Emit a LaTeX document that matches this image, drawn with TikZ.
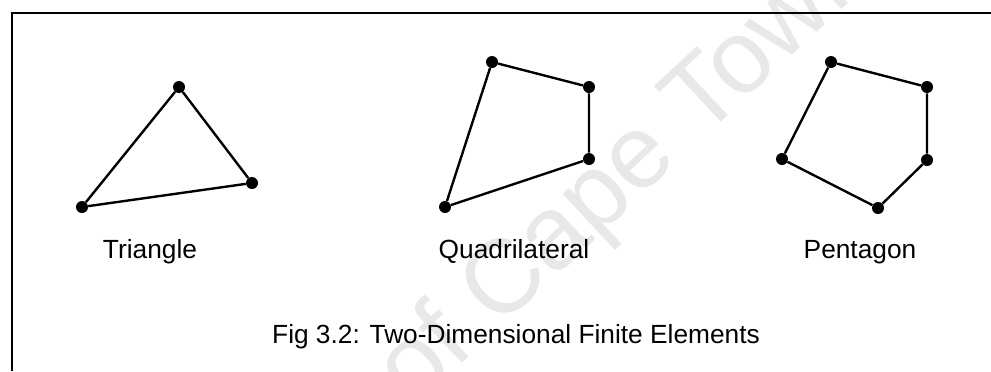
\documentclass[tikz,border=0pt]{standalone}
\usepackage{fontspec}
\setmainfont{Liberation Sans}
\tikzset{
  vertex/.style={circle,fill=black,inner sep=0pt,minimum size=0.3cm},
  side/.style={line width=1.7pt,line join=round},
  shapename/.style={anchor=base,font=\fontsize{18.7}{22}\selectfont},
}
\begin{document}
\begin{tikzpicture}[x=0.025cm,y=-0.025cm]
  \useasboundingbox (0,0) rectangle (991,371);
  % faint watermark of the scan
  \begin{scope}
    \clip (0,0) rectangle (991,371);
    \node[text=black!9,rotate=43,font=\fontsize{74}{80}\selectfont] (stamp) at (628,172) {of Cape Town};
  \end{scope}
  % frame, only its left and top edges show
  \draw[line width=1.6pt] (12,371) -- (12,13) -- (991,13);

  % triangle
  \node[vertex] (t1) at (82,207) {};
  \node[vertex] (t2) at (179,87) {};
  \node[vertex] (t3) at (252,183) {};
  \draw[side] (t1) -- (t2) -- (t3) -- (t1);
  \node[shapename] (tri) at (150,258) {Triangle};

  % quadrilateral
  \node[vertex] (q1) at (445,207) {};
  \node[vertex] (q2) at (492,62) {};
  \node[vertex] (q3) at (589,87) {};
  \node[vertex] (q4) at (589,159) {};
  \draw[side] (q1) -- (q2) -- (q3) -- (q4) -- (q1);
  \node[shapename] (quad) at (514,258) {Quadrilateral};

  % pentagon
  \node[vertex] (p1) at (782,159) {};
  \node[vertex] (p2) at (831,62) {};
  \node[vertex] (p3) at (927,87) {};
  \node[vertex] (p4) at (927,160) {};
  \node[vertex] (p5) at (878,208) {};
  \draw[side] (p1) -- (p2) -- (p3) -- (p4) -- (p5) -- (p1);
  \node[shapename] (pent) at (860,258) {Pentagon};

  \node[shapename] (caption) at (516,343) {Fig 3.2: Two-Dimensional Finite Elements};
\end{tikzpicture}
\end{document}
